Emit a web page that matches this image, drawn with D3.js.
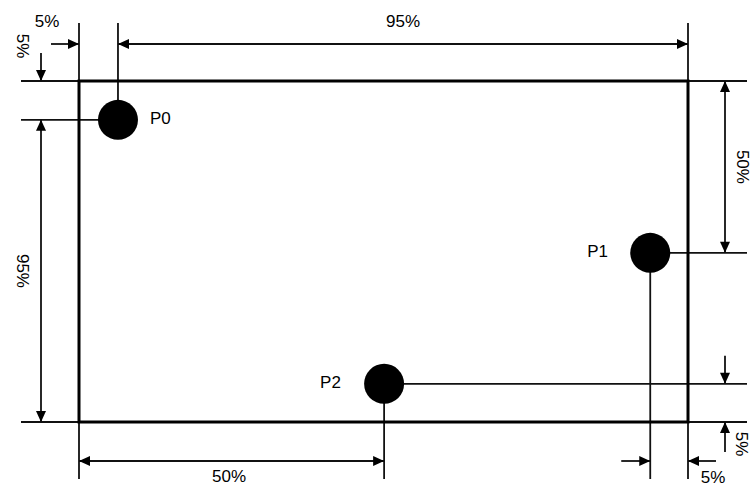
<!DOCTYPE html>
<html>
<head>
<meta charset="utf-8">
<script src="https://cdn.jsdelivr.net/npm/d3@7"></script>
<style>
  html, body { margin: 0; padding: 0; background: #fff; }
  svg { display: block; }
  text { font-family: "Liberation Sans", Arial, sans-serif; font-size: 17px; fill: #000; }
</style>
</head>
<body>
<svg id="chart" width="751" height="489"></svg>
<script>
// ---- data ----
const pointLabels = ["P0", "P1", "P2"];
const pointX = [0.064, 0.938, 0.501];   // fraction of rectangle width from the left edge
const pointY = [0.114, 0.504, 0.888];   // fraction of rectangle height from the top edge
const dimLabels = { topLeft: "5%", topSpan: "95%", leftTop: "5%", leftSpan: "95%",
                    bottomSpan: "50%", bottomRight: "5%", rightSpan: "50%", rightBottom: "5%" };

// ---- layout ----
const svg = d3.select("#chart");
const x = d3.scaleLinear().domain([0, 1]).range([79, 688]);
const y = d3.scaleLinear().domain([0, 1]).range([81, 422]);
const pts = pointLabels.map((l, i) => ({ label: l, px: x(pointX[i]), py: y(pointY[i]) }));
const P0 = pts[0], P1 = pts[1], P2 = pts[2];
const X0 = x(0), X1 = x(1), Y0 = y(0), Y1 = y(1);

const topY = 23, botY = 479, leftX = 21, rightX = 747;
const dimTop = 44, dimLeft = 41, dimBot = 461, dimRight = 725;
const lineColor = "#111";

function line(x1, y1, x2, y2, w) {
  svg.append("line").attr("x1", x1).attr("y1", y1).attr("x2", x2).attr("y2", y2)
    .attr("stroke", lineColor).attr("stroke-width", w || 1.8);
}
// arrowhead with tip at (tx,ty), pointing in direction (dx,dy)
function head(tx, ty, dx, dy) {
  const L = 11, W = 5;
  const bx = tx - dx * L, by = ty - dy * L;
  const nx = -dy, ny = dx;
  svg.append("path")
    .attr("d", `M${tx},${ty}L${bx + nx * W},${by + ny * W}L${bx - nx * W},${by - ny * W}Z`)
    .attr("fill", "#000");
}
function label(tx, ty, txt, rotate) {
  const t = svg.append("text").text(txt).attr("text-anchor", "middle").attr("dominant-baseline", "central");
  if (rotate) t.attr("transform", `translate(${tx},${ty}) rotate(90)`);
  else t.attr("x", tx).attr("y", ty);
}

// extension lines (top)
line(X0, topY, X0, Y0);
line(P0.px, topY, P0.px, P0.py);
line(X1, topY, X1, Y0);
// extension lines (left)
line(leftX, Y0, X0, Y0);
line(leftX, P0.py, P0.px, P0.py);
line(leftX, Y1, X0, Y1);
// extension lines (bottom)
line(X0, Y1, X0, botY);
line(P2.px, P2.py, P2.px, botY);
line(P1.px, P1.py, P1.px, botY);
line(X1, Y1, X1, botY);
// extension lines (right)
line(X1, Y0, rightX, Y0);
line(P1.px, P1.py, rightX, P1.py);
line(P2.px, P2.py, rightX, P2.py);
line(X1, Y1, rightX, Y1);

// rectangle
svg.append("rect").attr("x", X0).attr("y", Y0).attr("width", X1 - X0).attr("height", Y1 - Y0)
  .attr("fill", "none").attr("stroke", "#000").attr("stroke-width", 3);

// top dimensions
line(X0 - 28, dimTop, X0, dimTop); head(X0, dimTop, 1, 0);
line(P0.px, dimTop, X1, dimTop); head(P0.px, dimTop, -1, 0); head(X1, dimTop, 1, 0);
label(47, 21, dimLabels.topLeft);
label((P0.px + X1) / 2, 21, dimLabels.topSpan);

// left dimensions
line(dimLeft, Y0 - 28, dimLeft, Y0); head(dimLeft, Y0, 0, 1);
line(dimLeft, P0.py, dimLeft, Y1); head(dimLeft, P0.py, 0, -1); head(dimLeft, Y1, 0, 1);
label(22, 46, dimLabels.leftTop, true);
label(22, (P0.py + Y1) / 2, dimLabels.leftSpan, true);

// bottom dimensions
line(X0, dimBot, P2.px, dimBot); head(X0, dimBot, -1, 0); head(P2.px, dimBot, 1, 0);
line(P1.px - 29, dimBot, P1.px, dimBot); head(P1.px, dimBot, 1, 0);
line(X1 + 28, dimBot, X1, dimBot); head(X1, dimBot, -1, 0);
label(229, 476, dimLabels.bottomSpan);
label(713, 477, dimLabels.bottomRight);

// right dimensions
line(dimRight, Y0, dimRight, P1.py); head(dimRight, Y0, 0, -1); head(dimRight, P1.py, 0, 1);
line(dimRight, P2.py - 28, dimRight, P2.py); head(dimRight, P2.py, 0, 1);
line(dimRight, Y1 + 30, dimRight, Y1); head(dimRight, Y1, 0, -1);
label(742, (Y0 + P1.py) / 2, dimLabels.rightSpan, true);
label(741, 444, dimLabels.rightBottom, true);

// points
svg.selectAll("circle.pt").data(pts).enter().append("circle").attr("class", "pt")
  .attr("cx", d => d.px).attr("cy", d => d.py).attr("r", 20).attr("fill", "#000");
const labelOffset = { P0: 32, P1: -63, P2: -64 };
svg.selectAll("text.pl").data(pts).enter().append("text").attr("class", "pl")
  .attr("x", d => d.px + labelOffset[d.label]).attr("y", d => d.py - 1)
  .attr("dominant-baseline", "central").text(d => d.label);
</script>
</body>
</html>
